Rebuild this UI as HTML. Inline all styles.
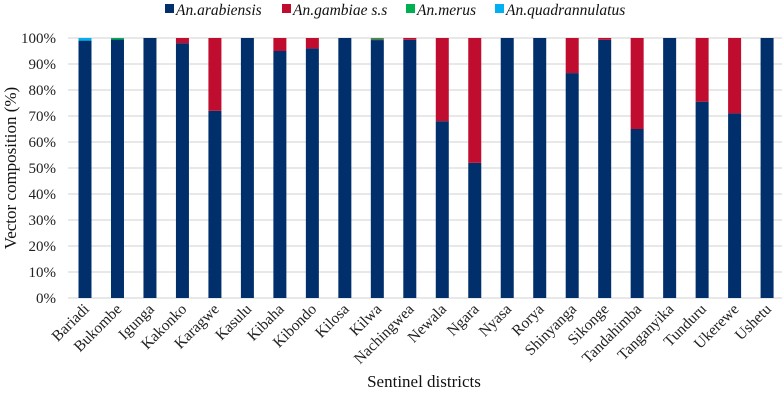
<!DOCTYPE html>
<html><head><meta charset="utf-8"><style>
body{margin:0;background:#fff;font-family:"Liberation Serif",serif;}
svg{display:block}
</style></head><body>
<svg id="chart" width="784" height="400" viewBox="0 0 784 400">
<g id="legend"></g>
<g id="grid"></g>
<g id="yticks"></g>
<g id="bars"></g>
<g id="xticks"></g>
<text x="0" y="0" transform="translate(16,168) rotate(-90)" text-anchor="middle" font-size="17" fill="#111">Vector composition (%)</text>
<text x="424" y="387" text-anchor="middle" font-size="17" fill="#111">Sentinel districts</text>
</svg>
<script>
const categories=["Bariadi","Bukombe","Igunga","Kakonko","Karagwe","Kasulu","Kibaha","Kibondo","Kilosa","Kilwa","Nachingwea","Newala","Ngara","Nyasa","Rorya","Shinyanga","Sikonge","Tandahimba","Tanganyika","Tunduru","Ukerewe","Ushetu"];
const arabiensis=[99,99.4,100,98,72,100,95,96,100,99.2,99.3,68,52,100,100,86.5,99.3,65,100,75.5,71,100];
const gambiae=[0,0,0,2,28,0,5,4,0,0.3,0.7,32,48,0,0,13.5,0.7,35,0,24.5,29,0];
const merus=[0,0.6,0,0,0,0,0,0,0,0.5,0,0,0,0,0,0,0,0,0,0,0,0];
const quadrannulatus=[1,0,0,0,0,0,0,0,0,0,0,0,0,0,0,0,0,0,0,0,0,0];
const seriesNames=["An.arabiensis","An.gambiae s.s","An.merus","An.quadrannulatus"];
const yTicks=[0,10,20,30,40,50,60,70,80,90,100];
const colors=["#002f6c","#c00c2f","#00b050","#00b0f0"];
const NS="http://www.w3.org/2000/svg";
const y0=298,yTop=38,xL=68,xR=782,first=85,step=32.48,bw=13;
const Y=v=>y0-(v/100)*(y0-yTop);
const X=i=>first+i*step;
function mk(t,a,p){const e=document.createElementNS(NS,t);for(const k in a)e.setAttribute(k,a[k]);p.appendChild(e);return e;}
const grid=document.getElementById('grid'),yt=document.getElementById('yticks');
yTicks.forEach(v=>{
 const l=mk('line',{x1:xL,x2:xR,y1:Y(v),y2:Y(v),stroke:'#d9d9d9','stroke-width':1.3},grid);
 
 
 const t=mk('text',{x:56,y:Y(v)+5,'text-anchor':'end','font-size':15,fill:'#222'},yt);
 t.textContent=v+'%';
 
 
});
const series=[arabiensis,gambiae,merus,quadrannulatus];
const bars=document.getElementById('bars'),xt=document.getElementById('xticks');
categories.forEach((c,i)=>{
 let acc=0;
 series.forEach((s,j)=>{
  const v=s[i];if(v<=0)return;
  const r=mk('rect',{x:X(i)-bw/2,y:Y(acc+v),width:bw,height:Y(acc)-Y(acc+v),fill:colors[j]},bars);
  
  
  acc+=v;
 });
 const t=mk('text',{x:0,y:0,transform:`translate(${X(i)+5},${y0+12}) rotate(-45)`,'text-anchor':'end','font-size':15.5,fill:'#222'},xt);
 t.textContent=c;
 
 
});
const lg=document.getElementById('legend');
const lx=[165,282,406,495];
seriesNames.forEach((n,j)=>{
 const r=mk('rect',{x:lx[j],y:4,width:9,height:9,fill:colors[j]},lg);
 
 
 const t=mk('text',{x:lx[j]+11,y:15,'font-size':15.5,'font-style':'italic',fill:'#111'},lg);
 t.textContent=n;
 
 
});
</script>
</body></html>
